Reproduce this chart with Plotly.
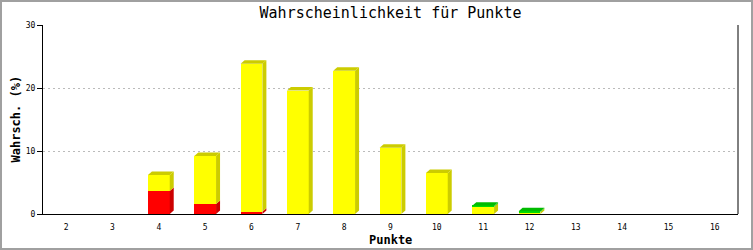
import plotly.graph_objects as go

# ---- data ----
points = [str(p) for p in range(2, 17)]
red_vals = [0, 0, 3.65, 1.6, 0.35, 0, 0, 0, 0, 0, 0, 0, 0, 0, 0]
yellow_vals = [0, 0, 2.55, 7.6, 23.5, 19.6, 22.75, 10.5, 6.5, 1.15, 0.3, 0, 0, 0, 0]
green_vals = [0, 0, 0, 0, 0, 0, 0, 0, 0, 0.15, 0.15, 0, 0, 0, 0]

# ---- layout constants ----
W, H = 753, 250
L, R, T, B = 43, 15, 25, 36
PW, PH = W - L - R, H - T - B
YMAX = 30
BAR_W = 0.47
DEPTH_PX_X, DEPTH_PX_Y = 4, 3.5

series = [
    (red_vals, "#FF0000", "#CC0000"),
    (yellow_vals, "#FFFF00", "#CCCC00"),
    (green_vals, "#00DD00", "#00BB00"),
]

xs = list(range(len(points)))
fig = go.Figure()
for vals, front, _ in series:
    fig.add_trace(go.Bar(x=xs, y=vals, marker=dict(color=front, line=dict(width=0)),
                         width=BAR_W, showlegend=False, hoverinfo="skip"))

# 3D side/top faces derived from data through axis scale
dx = DEPTH_PX_X / (PW / len(points))
dy = DEPTH_PX_Y / (PH / YMAX)
shapes = []
for i in xs:
    base = 0.0
    top_color = None
    top_y = 0.0
    xl, xr = i - BAR_W / 2, i + BAR_W / 2
    for vals, front, side in series:
        v = vals[i]
        if v <= 0:
            continue
        y0, y1 = base, base + v
        shapes.append(dict(type="path", xref="x", yref="y",
                           path=f"M {xr},{y0} L {xr+dx},{y0+dy} L {xr+dx},{y1+dy} L {xr},{y1} Z",
                           fillcolor=side, line=dict(width=0)))
        base = y1
        top_color = side
        top_y = y1
    if top_color:
        shapes.append(dict(type="path", xref="x", yref="y",
                           path=f"M {xl},{top_y} L {xl+dx},{top_y+dy} L {xr+dx},{top_y+dy} L {xr},{top_y} Z",
                           fillcolor=top_color, line=dict(width=0)))

# right border of plot area
shapes.append(dict(type="line", xref="paper", yref="paper", x0=1, x1=1, y0=0, y1=1,
                   line=dict(color="black", width=1)))
# outer figure border
shapes.append(dict(type="rect", xref="paper", yref="paper",
                   x0=-(L - 1) / PW, x1=1 + (R - 1) / PW, y0=-(B - 1) / PH, y1=1 + (T - 1) / PH,
                   line=dict(color="#A0A0A0", width=2), fillcolor="rgba(0,0,0,0)"))

MONO = "DejaVu Sans Mono"
annotations = [
    dict(text="<b>Punkte</b>", xref="paper", yref="paper", x=0.5, y=0, yshift=-(240 - (T + PH)),
         xanchor="center", yanchor="middle", showarrow=False,
         font=dict(family=MONO, size=12, color="black")),
    dict(text="<b>Wahrsch. (%)</b>", xref="paper", yref="paper", x=0, y=0.5, xshift=-(L - 15),
         xanchor="center", yanchor="middle", textangle=-90, showarrow=False,
         font=dict(family=MONO, size=12, color="black")),
]

fig.update_layout(
    width=W, height=H,
    margin=dict(l=L, r=R, t=T, b=B, pad=0),
    paper_bgcolor="white", plot_bgcolor="white",
    barmode="stack", bargap=0,
    shapes=shapes, annotations=annotations,
    title=dict(text="Wahrscheinlichkeit für Punkte", x=0.5, xref="paper", xanchor="center",
               y=1 - 13 / H, yanchor="middle", yref="container",
               font=dict(family=MONO, size=15, color="black")),
    xaxis=dict(range=[-0.5, len(points) - 0.5], tickvals=xs, ticktext=points, automargin=False,
               tickfont=dict(family=MONO, size=8, color="black"),
               ticks="outside", ticklen=5, tickcolor="rgba(0,0,0,0)",
               showgrid=False, zeroline=False, showline=True, linecolor="black", linewidth=1),
    yaxis=dict(range=[0, YMAX], tickvals=[0, 10, 20, 30], automargin=False,
               tickfont=dict(family=MONO, size=8, color="black"),
               ticks="outside", ticklen=5, tickcolor="black",
               showgrid=True, gridcolor="#BBBBBB", griddash="2px,3px", gridwidth=1,
               zeroline=False, showline=True, linecolor="black", linewidth=1),
)

fig.write_html("out.html")
